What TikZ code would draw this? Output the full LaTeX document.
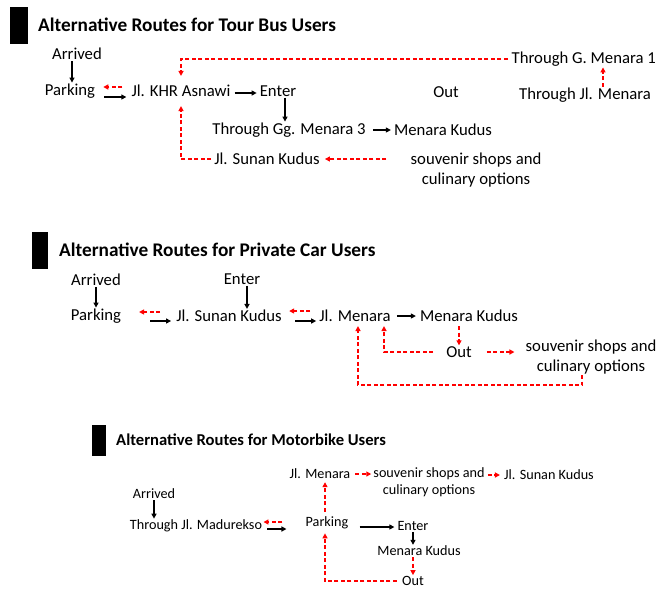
\documentclass[tikz,border=0pt]{standalone}
\usepackage{fontspec}
\setmainfont{Carlito}
\usetikzlibrary{arrows.meta}

\begin{document}
\begin{tikzpicture}[x = 1pt, y = -1pt,
    txt/.style = {inner sep = 1pt, font = \fontsize{16.7}{19.5}\selectfont},
    small/.style = {inner sep = 1pt, font = \fontsize{14.2}{16.5}\selectfont},
    ttl/.style = {anchor = west, inner sep = 0pt, font = \fontsize{19.3}{21}\selectfont\bfseries},
    bar/.style = {fill = black, inner sep = 0pt},
    blk/.style = {-{Triangle[length = 5pt, width = 5pt]}, line width = 1.4pt},
    alt/.style = {-{Triangle[length = 5pt, width = 5pt]}, line width = 1.4pt, red, dash pattern = on 4pt off 2.5pt}]
    \useasboundingbox (0,0) rectangle (658,590);

    % tour bus
    \node [bar, minimum width = 18pt, minimum height = 37pt] (bar1) at (19,25.5) {};
    \node [ttl] (t1) at (38,25) {Alternative Routes for Tour Bus Users};
    \node [txt] (arr1) at (77,54) {Arrived};
    \node [txt] (park1) at (70,91) {Parking};
    \node [txt] (khr) at (181,91) {Jl. KHR Asnawi};
    \node [txt] (ent1) at (278,91) {Enter};
    \node [txt] (gg3) at (289,130) {Through Gg. Menara 3};
    \node [txt] (mk1) at (443,130) {Menara Kudus};
    \node [txt] (out1) at (446,92) {Out};
    \node [txt, anchor = east] (gm1) at (657,59) {Through G. Menara 1};
    \node [txt] (jlm1) at (585,95) {Through Jl. Menara};
    \node [txt] (suk1) at (267,159) {Jl. Sunan Kudus};
    \node [txt, align = center] (shop1) at (476,170) {souvenir shops and\\culinary options};

    \draw [blk] ([xshift = -5pt]arr1.south) -- ([xshift = 2pt]park1.north);
    \draw [blk] ([xshift = 8pt, yshift = -6pt]park1.east) -- ([xshift = -4pt, yshift = -6pt]khr.west);
    \draw [alt] ([xshift = -8pt, yshift = 4pt]khr.west) -- ([xshift = 7pt, yshift = 4pt]park1.east);
    \draw [blk, shorten <= 3pt, shorten >= 2pt] ([yshift = -2pt]khr.east) -- ([yshift = -2pt]ent1.west);
    \draw [blk] ([xshift = 7pt]ent1.south) -- ([xshift = 7pt]ent1.south |- gg3.north);
    \draw [blk, shorten <= 6pt, shorten >= 2pt] (gg3) -- (mk1);
    \draw [alt] ([xshift = 18pt]jlm1.north) -- ([xshift = 18pt]jlm1.north |- gm1.south);
    \draw [alt, shorten <= 3pt, shorten >= 8pt] (gm1.west) -| (khr.north);
    \draw [alt, shorten <= 2pt, shorten >= 8pt] (suk1.west) -| (khr.south);
    \draw [alt, shorten <= 23pt, shorten >= 4pt] (shop1.west |- suk1.east) -- (suk1.east);

    % private car
    \node [bar, minimum width = 16pt, minimum height = 37pt] (bar2) at (40,250.5) {};
    \node [ttl] (t2) at (59,250) {Alternative Routes for Private Car Users};
    \node [txt] (arr2) at (96,280) {Arrived};
    \node [txt] (park2) at (96,316) {Parking};
    \node [txt] (suk2) at (229,316) {Jl. Sunan Kudus};
    \node [txt] (ent2) at (242,279) {Enter};
    \node [txt] (men2) at (355,316) {Jl. Menara};
    \node [txt] (mk2) at (469,316) {Menara Kudus};
    \node [txt] (out2) at (459,352) {Out};
    \node [txt, align = center] (shop2) at (591,357) {souvenir shops and\\culinary options};

    \draw [blk] (arr2) -- (park2);
    \draw [alt] ([xshift = -15pt, yshift = 4pt]suk2.west) -- ([xshift = -36pt, yshift = 4pt]suk2.west);
    \draw [blk] ([xshift = -25pt, yshift = -5pt]suk2.west) -- ([xshift = -4pt, yshift = -5pt]suk2.west);
    \draw [blk] ([xshift = 5pt]ent2.south) -- ([xshift = 5pt]ent2.south |- suk2.north);
    \draw [alt] ([xshift = -8pt, yshift = 5pt]men2.west) -- ([xshift = -29pt, yshift = 5pt]men2.west);
    \draw [blk] ([xshift = -23pt, yshift = -5pt]men2.west) -- ([xshift = -2pt, yshift = -5pt]men2.west);
    \draw [blk, shorten <= 5pt, shorten >= 3pt] (men2) -- (mk2);
    \draw [alt, shorten <= 3pt] ([xshift = -10pt]mk2.south) -- (out2.north);
    \draw [alt, shorten <= 12pt, shorten >= 3pt] (out2.west) -| ([xshift = 29pt]men2.south);
    \draw [alt, shorten <= 14pt, shorten >= 10pt] (out2.east) -- (shop2.west |- out2.east);
    \draw [alt, shorten >= 3pt] ([xshift = -9pt]shop2.south) -- ++(0,10) -| ([xshift = 3pt]men2.south);

    % motorbike
    \node [bar, minimum width = 14pt, minimum height = 31pt] (bar3) at (99,440.5) {};
    \node [ttl, font = \fontsize{16.6}{18}\selectfont\bfseries] (t3) at (116,440) {Alternative Routes for Motorbike Users};
    \node [small] (m3) at (320,474) {Jl. Menara};
    \node [small, align = center] (shop3) at (429,482) {souvenir shops and\\culinary options};
    \node [small] (suk3) at (549,475) {Jl. Sunan Kudus};
    \node [small] (arr3) at (154,494) {Arrived};
    \node [small] (mad) at (196,526) {Through Jl. Madurekso};
    \node [small] (park3) at (327,523) {Parking};
    \node [small] (ent3) at (413,526) {Enter};
    \node [small] (mk3) at (419,551) {Menara Kudus};
    \node [small] (out3) at (413,581) {Out};

    \draw [blk] (arr3) -- (arr3 |- mad.north);
    \draw [alt] ([xshift = -22pt, yshift = 1pt]park3.west) -- ([xshift = -41pt, yshift = 1pt]park3.west);
    \draw [blk] ([xshift = -37pt, yshift = -6pt]park3.west) -- ([xshift = -18pt, yshift = -6pt]park3.west);
    \draw [alt, shorten <= 4pt, shorten >= 2pt] ([xshift = -2pt]park3.north) -- ([xshift = -2pt]park3.north |- m3.south);
    \draw [alt, shorten <= 4pt, shorten >= 1pt] (m3.east) -- (shop3.west |- m3.east);
    \draw [alt, shorten <= 2pt, shorten >= 3pt] (shop3.east |- suk3.west) -- (suk3.west);
    \draw [blk, shorten <= 10pt, shorten >= 2pt] ([yshift = -4pt]park3.east) -- ([yshift = -4pt]ent3.west |- park3.east);
    \draw [blk] (ent3) -- (ent3 |- mk3.north);
    \draw [alt] (mk3.south -| out3) -- (out3.north);
    \draw [alt, shorten <= 4pt, shorten >= 3pt] (out3.west) -| ([xshift = -2pt]park3.south);
\end{tikzpicture}
\end{document}
